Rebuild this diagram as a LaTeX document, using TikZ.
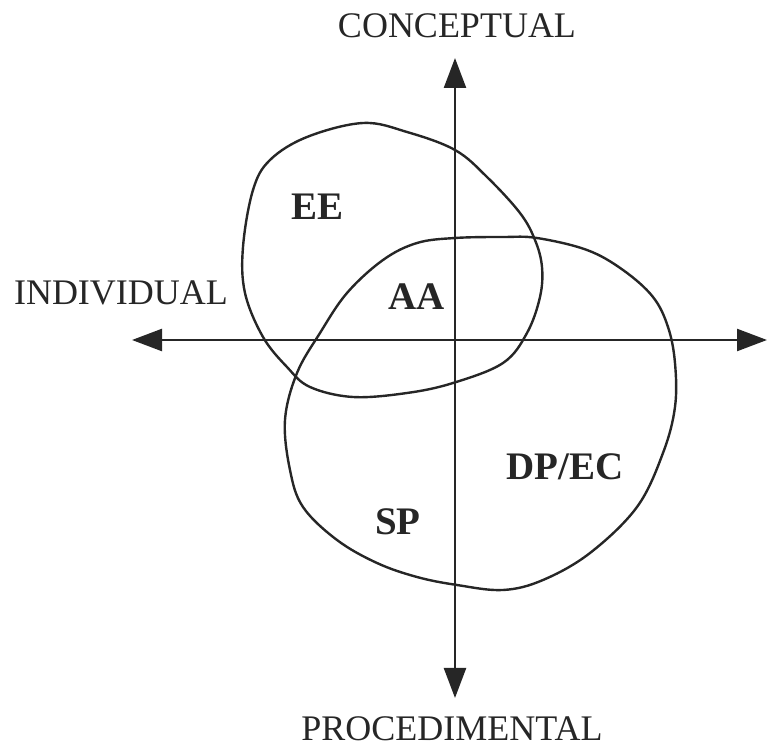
\documentclass[tikz,border=0pt]{standalone}
\usepackage{fontspec}
\setmainfont{Liberation Serif}
\usetikzlibrary{arrows.meta,positioning}

\begin{document}
\begin{tikzpicture}[x=0.5pt,y=-0.5pt,
    axis/.style={line width=1.2pt,black!85,-{Triangle[length=15pt,width=11pt]}},
    blob/.style={line width=1.2pt,black!85,line join=round},
    axlabel/.style={font=\fontsize{18}{20}\selectfont,text=black!85,inner sep=0pt},
    zone/.style={font=\fontsize{19.5}{21}\selectfont\bfseries,text=black!85,inner sep=0pt}]
  \useasboundingbox (0,0) rectangle (768,749);
  % axis ends
  \coordinate (o) at (455,340);
  \coordinate (up) at (455,58);
  \coordinate (down) at (455,698);
  \coordinate (left) at (132,340);
  \coordinate (right) at (767,340);
  \draw[axis] (o) -- (up);
  \draw[axis] (o) -- (down);
  \draw[axis] (o) -- (left);
  \draw[axis] (o) -- (right);
  % axis labels
  \node[axlabel] (conc) at (457,26) {CONCEPTUAL};
  \node[axlabel] (indiv) at (121,293) {INDIVIDUAL};
  \node[axlabel] (proc) at (452,729) {PROCEDIMENTAL};
  % upper blob
  \draw[blob] plot[smooth cycle,tension=0.6] coordinates {
    (363,123) (407,132) (455,150) (487,177) (520,213) (535,240) (542,267)
    (540,297) (527,333) (503,363) (453,383) (407,393) (353,397) (310,387)
    (287,367) (263,337) (245,293) (243,247) (253,190) (270,160) (307,137)};
  % lower blob
  \draw[blob] plot[smooth cycle,tension=0.6] coordinates {
    (455,238) (503,237) (537,238) (587,250) (623,270) (653,297) (668,327)
    (675,363) (675,407) (663,453) (637,507) (590,553) (543,580) (503,590)
    (457,585) (417,577) (377,563) (337,540) (303,507) (290,470) (285,420)
    (297,373) (320,333) (347,293) (383,260) (417,243)};
  % zones
  \node[zone] (ee) at (318,207) {EE};
  \node[zone] (aa) at (417,297) {AA};
  \node[zone] (dpec) at (565,467) {DP/EC};
  \node[zone] (sp) at (398,522) {SP};
\end{tikzpicture}
\end{document}
